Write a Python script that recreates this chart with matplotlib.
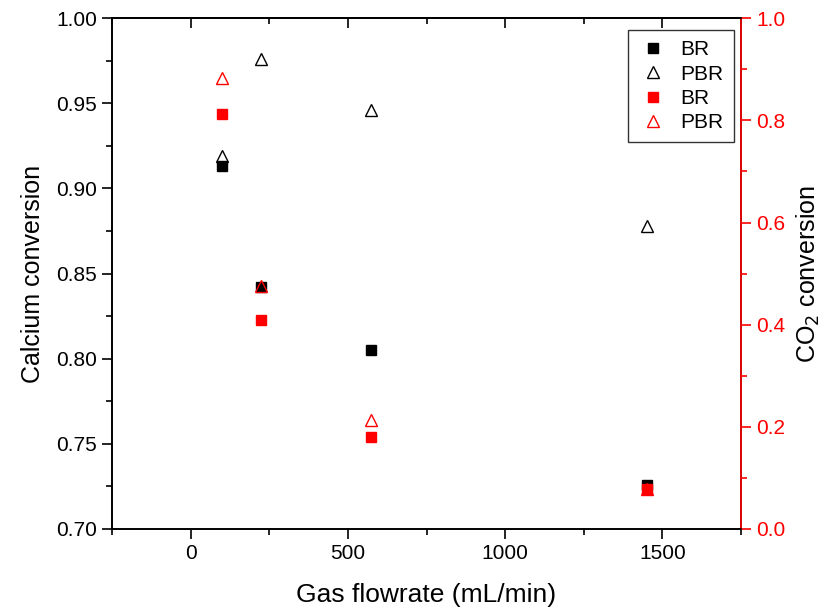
import matplotlib.pyplot as plt
from matplotlib.ticker import MultipleLocator

plt.rcParams['font.family'] = ['Liberation Sans', 'DejaVu Sans']

# data
flow = [100, 225, 575, 1450]
ca_br = [0.913, 0.842, 0.805, 0.726]
ca_pbr = [0.919, 0.976, 0.946, 0.878]
co2_br = [0.812, 0.409, 0.180, 0.078]
co2_pbr = [0.883, 0.476, 0.213, 0.078]

fig = plt.figure(figsize=(8.25, 6.08), dpi=100)
ax = fig.add_axes([0.1358, 0.130, 0.7624, 0.840])
ax2 = ax.twinx()

h1, = ax.plot(flow, ca_br, 's', color='black', markersize=7, linestyle='none', label='BR')
h2, = ax.plot(flow, ca_pbr, '^', color='black', markerfacecolor='none', markersize=8,
              markeredgewidth=1, linestyle='none', label='PBR')
h3, = ax2.plot(flow, co2_br, 's', color='red', markersize=7, linestyle='none', label='BR')
h4, = ax2.plot(flow, co2_pbr, '^', color='red', markerfacecolor='none', markersize=8,
               markeredgewidth=1, linestyle='none', label='PBR')

ax.set_xlim(-250, 1750)
ax.set_ylim(0.70, 1.00)
ax2.set_ylim(0.0, 1.0)

ax.xaxis.set_major_locator(MultipleLocator(500))
ax.xaxis.set_minor_locator(MultipleLocator(250))
ax.yaxis.set_major_locator(MultipleLocator(0.05))
ax.yaxis.set_minor_locator(MultipleLocator(0.025))
ax.yaxis.set_major_formatter(plt.FormatStrFormatter('%.2f'))
ax2.yaxis.set_major_locator(MultipleLocator(0.2))
ax2.yaxis.set_minor_locator(MultipleLocator(0.1))
ax2.yaxis.set_major_formatter(plt.FormatStrFormatter('%.1f'))

ax.tick_params(which='major', direction='out', length=7, width=1.2, labelsize=15, pad=4)
ax.tick_params(which='minor', direction='out', length=4, width=1.2)
ax2.tick_params(which='major', direction='out', length=7, width=1.2, labelsize=15,
                colors='red', pad=4)
ax2.tick_params(which='minor', direction='out', length=4, width=1.2, colors='red')

# inward ticks along the top edge
top = ax.secondary_xaxis('top')
top.xaxis.set_major_locator(MultipleLocator(500))
top.xaxis.set_minor_locator(MultipleLocator(250))
top.tick_params(which='major', direction='in', length=7, width=1.2, labeltop=False)
top.tick_params(which='minor', direction='in', length=4, width=1.2)

for s in ax.spines.values():
    s.set_linewidth(1.2)
for s in ax2.spines.values():
    s.set_linewidth(1.2)
ax2.spines['right'].set_color('red')
top.spines['top'].set_linewidth(1.2)

ax.set_xlabel('Gas flowrate (mL/min)', fontsize=19, labelpad=14)
ax.set_ylabel('Calcium conversion', fontsize=18, labelpad=8)
ax2.set_ylabel('CO$_2$ conversion', fontsize=18, labelpad=7)

leg = ax2.legend([h1, h2, h3, h4], ['BR', 'PBR', 'BR', 'PBR'], loc='upper right',
                 bbox_to_anchor=(0.989, 0.977), borderaxespad=0, fontsize=15,
                 frameon=True, fancybox=False, edgecolor='black', handlelength=1.4,
                 handletextpad=0.6, borderpad=0.5, labelspacing=0.25)
leg.get_frame().set_linewidth(1.0)

fig.savefig('out.png', dpi=100)
